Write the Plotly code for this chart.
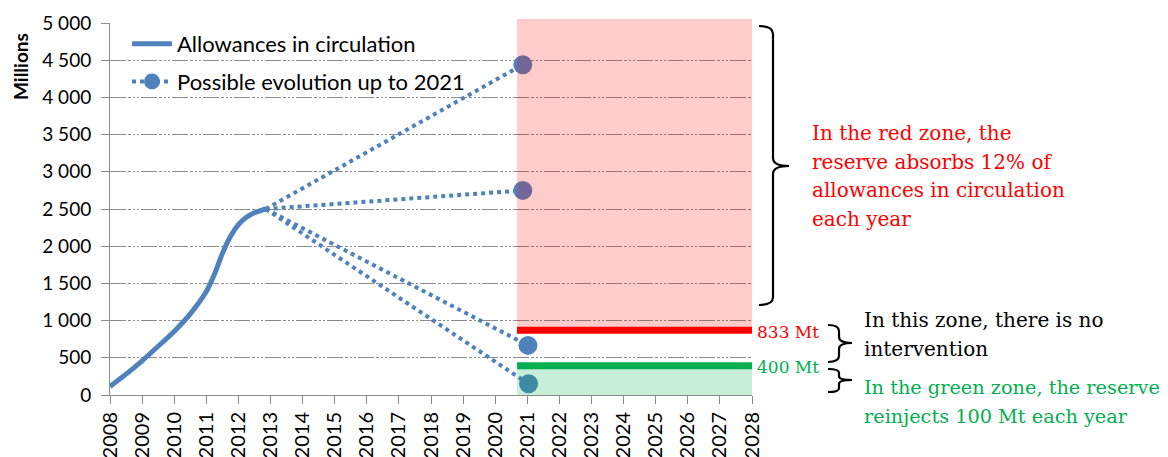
import plotly.graph_objects as go

# ---------------- data ----------------
curve_years = [2008, 2008.5, 2009, 2009.5, 2010, 2010.5, 2011, 2011.25, 2011.5, 2011.75, 2012, 2012.25, 2012.5, 2012.85]
allowances = [115, 280, 460, 655, 855, 1090, 1390, 1620, 1900, 2130, 2290, 2390, 2450, 2500]

branch_year = 2012.85
branch_value = 2500
scenario_years = [2020.86, 2020.86, 2021.02, 2021.04]
scenario_values = [4440, 2750, 667, 150]

zone_start_year = 2020.68
zone_end_year = 2028
red_threshold = 870
green_threshold = 393

x_ticks = list(range(2008, 2029))
x_tick_labels = [str(v) for v in x_ticks]
y_ticks = [0, 500, 1000, 1500, 2000, 2500, 3000, 3500, 4000, 4500, 5000]
y_tick_labels = ["0", "500", "1 000", "1 500", "2 000", "2 500", "3 000", "3 500", "4 000", "4 500", "5 000"]

red_text = ["In the red zone, the", "reserve absorbs 12% of", "allowances in circulation", "each year"]
black_text = ["In this zone, there is no", "intervention"]
green_text = ["In the green zone, the reserve", "reinjects 100 Mt each year"]
red_label = "833 Mt"
green_label = "400 Mt"

# ---------------- layout geometry ----------------
W, H = 1168, 457
ML, MR, MT, MB = 110, 416, 23, 62
PW = W - ML - MR
PH = H - MT - MB


def px(x):
    return (x - ML) / PW


def py(y):
    return (H - MB - y) / PH


BLUE = "#4F81BD"
GRID = "#8C8C8C"
SANS = "Lato, 'Open Sans', sans-serif"
SERIF = "'DejaVu Serif', serif"
RED = "#FF0000"
GREEN = "#00B050"

fig = go.Figure()

# dotted scenario lines
lx, ly = [], []
for sx, sv in zip(scenario_years, scenario_values):
    lx += [branch_year, sx, None]
    ly += [branch_value, sv, None]
fig.add_trace(go.Scatter(x=lx, y=ly, mode="lines", line=dict(color=BLUE, width=4, dash="dot"),
                         showlegend=False, hoverinfo="skip"))
fig.add_trace(go.Scatter(x=scenario_years, y=scenario_values, mode="markers",
                         marker=dict(color=BLUE, size=19), showlegend=False))

# main curve
fig.add_trace(go.Scatter(x=curve_years, y=allowances, mode="lines", name="Allowances in circulation",
                         line=dict(color=BLUE, width=5, shape="spline", smoothing=0.6),
                         legendgroup="a"))
# legend entry for scenarios
fig.add_trace(go.Scatter(x=[None], y=[None], mode="lines+markers", name="Possible evolution up to 2021",
                         line=dict(color=BLUE, width=4, dash="dot"), marker=dict(color=BLUE, size=16),
                         legendgroup="b"))

shapes = []
# white patch behind legend on the top gridline
shapes.append(dict(type="rect", xref="paper", yref="paper", x0=px(165), x1=px(495), y0=0.993, y1=1.004,
                   fillcolor="white", line=dict(width=0), layer="between"))
# red zone
shapes.append(dict(type="rect", xref="x", yref="paper", x0=zone_start_year, x1=zone_end_year,
                   y0=red_threshold / 5000, y1=py(19),
                   fillcolor="rgba(255,0,0,0.2)", line=dict(width=0), layer="above"))
# green zone
shapes.append(dict(type="rect", xref="x", yref="y", x0=zone_start_year, x1=zone_end_year,
                   y0=0, y1=green_threshold,
                   fillcolor="rgba(0,176,80,0.22)", line=dict(width=0), layer="above"))
# threshold lines
shapes.append(dict(type="line", xref="x", yref="y", x0=zone_start_year, x1=zone_end_year,
                   y0=red_threshold, y1=red_threshold, line=dict(color=RED, width=7), layer="above"))
shapes.append(dict(type="line", xref="x", yref="y", x0=zone_start_year, x1=zone_end_year,
                   y0=green_threshold, y1=green_threshold, line=dict(color=GREEN, width=7), layer="above"))


def brace(x_hook, x_mid, x_tip, y_top, y_tip, y_bot):
    r = min(8, (y_bot - y_top) / 6)
    pts = (f"M {px(x_hook)},{py(y_top)} "
           f"Q {px(x_mid)},{py(y_top)} {px(x_mid)},{py(y_top + r)} "
           f"L {px(x_mid)},{py(y_tip - r)} "
           f"Q {px(x_mid)},{py(y_tip)} {px(x_tip)},{py(y_tip)} "
           f"Q {px(x_mid)},{py(y_tip)} {px(x_mid)},{py(y_tip + r)} "
           f"L {px(x_mid)},{py(y_bot - r)} "
           f"Q {px(x_mid)},{py(y_bot)} {px(x_hook)},{py(y_bot)}")
    return dict(type="path", xref="paper", yref="paper", path=pts, line=dict(color="black", width=2.2))


shapes.append(brace(759, 773, 789, 26, 166, 305))
shapes.append(brace(828, 839, 852, 325, 343, 362))
shapes.append(brace(828, 839, 852, 369, 380, 392))

annotations = []
annotations.append(dict(text="<b>Millions</b>", xref="paper", yref="paper", x=px(20), y=py(67),
                        showarrow=False, textangle=-90, font=dict(family=SANS, size=19, color="black"),
                        xanchor="center", yanchor="middle"))
for i, t in enumerate(red_text):
    annotations.append(dict(text=t, xref="paper", yref="paper", x=px(810), y=py(133 + 28.6 * i),
                            showarrow=False, xanchor="left", yanchor="middle",
                            font=dict(family=SERIF, size=20, color=RED)))
for i, t in enumerate(black_text):
    annotations.append(dict(text=t, xref="paper", yref="paper", x=px(862), y=py(320 + 29 * i),
                            showarrow=False, xanchor="left", yanchor="middle",
                            font=dict(family=SERIF, size=20, color="black")))
for i, t in enumerate(green_text):
    annotations.append(dict(text=t, xref="paper", yref="paper", x=px(862), y=py(387 + 29 * i),
                            showarrow=False, xanchor="left", yanchor="middle",
                            font=dict(family=SERIF, size=19.3, color=GREEN)))
annotations.append(dict(text=red_label, xref="paper", yref="paper", x=px(755), y=py(332),
                        showarrow=False, xanchor="left", yanchor="middle",
                        font=dict(family=SERIF, size=17, color=RED)))
annotations.append(dict(text=green_label, xref="paper", yref="paper", x=px(755), y=py(367),
                        showarrow=False, xanchor="left", yanchor="middle",
                        font=dict(family=SERIF, size=17, color=GREEN)))

fig.update_layout(
    width=W, height=H,
    margin=dict(l=ML, r=MR, t=MT, b=MB, pad=0, autoexpand=False),
    paper_bgcolor="white", plot_bgcolor="white",
    shapes=shapes, annotations=annotations,
    showlegend=True,
    legend=dict(x=px(127), y=1.0, xanchor="left", yanchor="top", bgcolor="rgba(0,0,0,0)",
                font=dict(family=SANS, size=22, color="black"), itemwidth=40,
                tracegroupgap=6, traceorder="grouped"),
    xaxis=dict(range=[2008, 2028], tickvals=x_ticks, ticktext=x_tick_labels, tickangle=-90,
               automargin=False,
               showgrid=False, zeroline=False, showline=True, linecolor=GRID, linewidth=1,
               ticks="outside", ticklen=8, tickcolor=GRID,
               tickfont=dict(family=SANS, size=20, color="black")),
    yaxis=dict(range=[0, 5000], tickvals=y_ticks, ticktext=y_tick_labels, automargin=False,
               showgrid=True, gridcolor=GRID, gridwidth=1,
               griddash="16px,2px,3px,2px,2px,2px,2px,2px",
               zeroline=False, showline=True, linecolor=GRID, linewidth=1,
               ticks="outside", ticklen=8, tickcolor=GRID, ticklabelstandoff=6,
               tickfont=dict(family=SANS, size=19, color="black")),
)

fig.write_html("out.html", config={"displayModeBar": False},
               post_script="document.body.style.margin='0';document.body.style.overflow='hidden';")
